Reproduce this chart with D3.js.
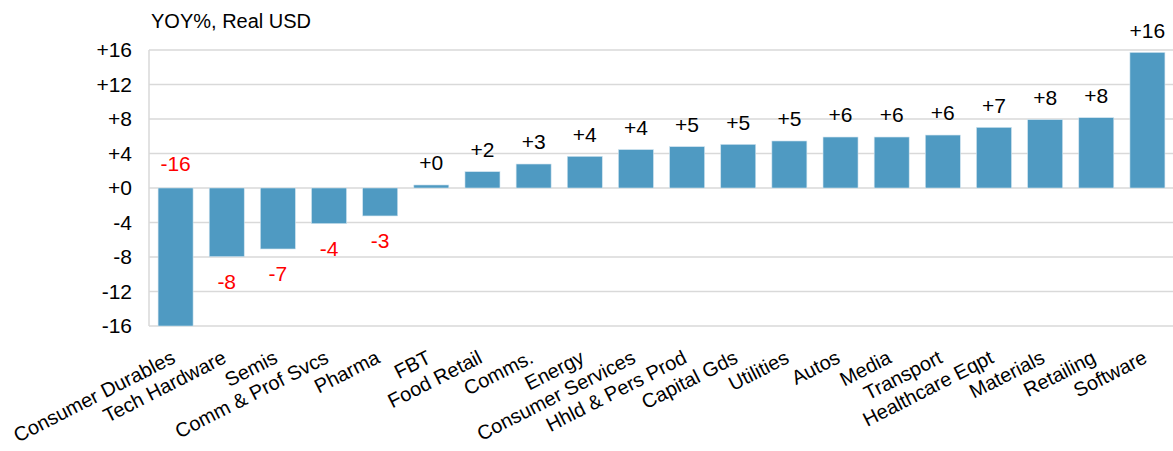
<!DOCTYPE html>
<html><head><meta charset="utf-8">
<script src="https://cdn.jsdelivr.net/npm/d3@7"></script>
<style>
html,body{margin:0;padding:0;background:#fff;}
text{font-family:"Liberation Sans",Arial,sans-serif;}
</style></head>
<body><svg id="chart" width="1173" height="451"></svg>
<script>
const categories = ["Consumer Durables","Tech Hardware","Semis","Comm & Prof Svcs","Pharma","FBT","Food Retail","Comms.","Energy","Consumer Services","Hhld & Pers Prod","Capital Gds","Utilities","Autos","Media","Transport","Healthcare Eqpt","Materials","Retailing","Software"];
const values = [-16.0,-7.96,-7.07,-4.13,-3.24,0.35,1.89,2.78,3.67,4.45,4.79,5.06,5.45,5.91,5.91,6.14,7.03,7.92,8.15,15.72];
const yTicks = [-16,-12,-8,-4,0,4,8,12,16];
const title = "YOY%, Real USD";

const svg = d3.select("#chart");
const W = 1173, H = 451;
const m = {left:149, right:0, top:50, bottom:125};
const x = d3.scaleBand().domain(categories).range([m.left+1, W]).paddingInner(0.316).paddingOuter(0.158);
const y = d3.scaleLinear().domain([-16,16]).range([H-m.bottom, m.top]);
const fmt = v => (v < 0 ? "-" : "+") + Math.abs(Math.round(v));

// grid
svg.append("g").selectAll("line").data(yTicks).join("line")
  .attr("x1", m.left).attr("x2", W).attr("y1", d=>y(d)).attr("y2", d=>y(d))
  .attr("stroke", "#d9d9d9").attr("stroke-width", 1.5);
// axis line
svg.append("line").attr("x1", m.left).attr("x2", m.left).attr("y1", y(16)).attr("y2", y(-16))
  .attr("stroke", "#d9d9d9").attr("stroke-width", 1.5);

// y axis labels
const yAxis = d3.axisLeft(y).tickValues(yTicks).tickSize(0).tickPadding(17).tickFormat(fmt);
const ga = svg.append("g").attr("transform", `translate(${m.left},0)`).call(yAxis);
ga.select(".domain").remove();
ga.selectAll("text").attr("font-size", 21).attr("fill", "#000").attr("font-family", "Liberation Sans, Arial, sans-serif");

// bars
svg.append("g").selectAll("rect").data(values).join("rect")
  .attr("x", (d,i)=>x(categories[i])).attr("width", x.bandwidth())
  .attr("y", d=>y(Math.max(0,d))).attr("height", d=>Math.abs(y(d)-y(0)))
  .attr("fill", "#4f9ac2").attr("stroke", "#cfe3ee").attr("stroke-width", 0.6);

// value labels
svg.append("g").selectAll("text").data(values).join("text")
  .attr("x", (d,i)=>x(categories[i]) + x.bandwidth()/2)
  .attr("y", d=>{
    if (d >= 0) return y(d) - 22;
    if (y(d) + 26 > y(-16)) return y(0) - 24;
    return y(d) + 25;
  })
  .attr("dy", "0.35em").attr("text-anchor", "middle").attr("font-size", 21)
  .attr("fill", d=> d<0 ? "#ff0000" : "#000").text(fmt);

// category labels
svg.append("g").selectAll("text").data(categories).join("text")
  .attr("transform", d=>`translate(${x(d)+x.bandwidth()/2+1},${H-m.bottom+36}) rotate(-27)`)
  .attr("text-anchor", "end").attr("font-size", 20).attr("fill", "#000").text(d=>d);

// title
svg.append("text").attr("x", 151).attr("y", 21).attr("dy", "0.35em")
  .attr("font-size", 20).attr("fill", "#000").text(title);
</script></body></html>
